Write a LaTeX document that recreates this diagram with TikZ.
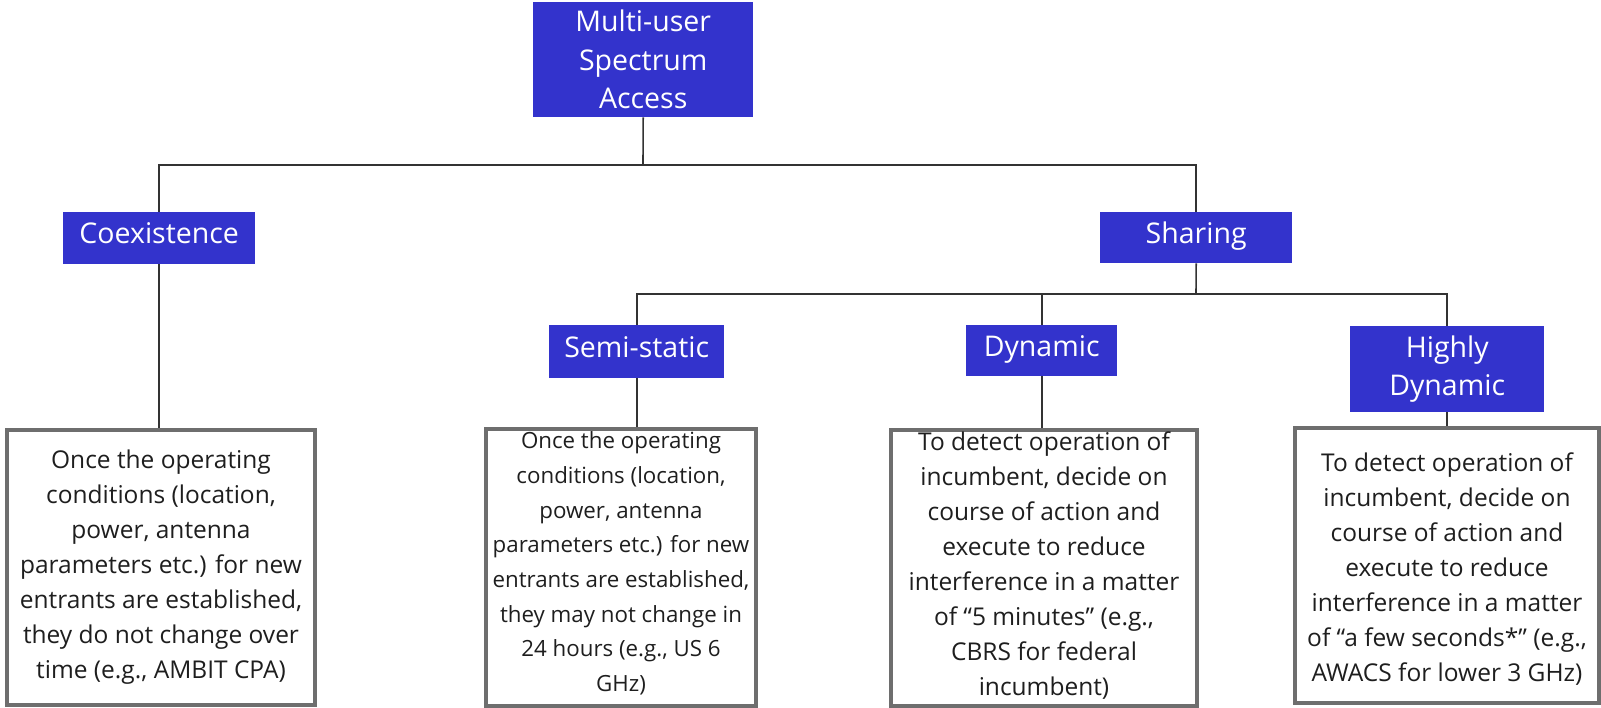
\documentclass[tikz,border=0pt]{standalone}
\usepackage{fontspec}
\setmainfont{Open Sans}
\definecolor{boxblue}{HTML}{3333CC}
\definecolor{framegray}{HTML}{6E6E6E}
\definecolor{txt}{HTML}{1E1E1E}
\definecolor{wire}{HTML}{333333}
\begin{document}
\begin{tikzpicture}[x=1pt,y=-1pt,
  head/.style={fill=boxblue, text=white, inner sep=0pt, anchor=north west, align=center,
    font=\fontsize{28.5}{38.5}\selectfont},
  oneline/.style={text height=21pt, text depth=10pt},
  frame/.style={draw=framegray, line width=4pt, inner sep=0pt, anchor=north west},
  body/.style={text=txt, align=center, inner sep=0pt, font=\fontsize{24.5}{35}\selectfont},
  wirestyle/.style={draw=wire, line width=1.6pt}]
\useasboundingbox (0,0) rectangle (1601,707);
% heading boxes
\node[head, minimum width=220pt, minimum height=115pt] (root) at (533,2) {Multi-user\\Spectrum\\Access};
\node[head, oneline, minimum width=192pt, minimum height=52pt] (coex) at (63,212) {Coexistence};
\node[head, oneline, minimum width=192pt, minimum height=51pt] (share) at (1100,212) {Sharing};
\node[head, oneline, minimum width=175pt, minimum height=53pt] (semi) at (549,325) {Semi-static};
\node[head, oneline, minimum width=151pt, minimum height=51pt] (dyn) at (966,325) {Dynamic};
\node[head, minimum width=194pt, minimum height=86pt] (hdyn) at (1350,326) {Highly\\Dynamic};
% text frames
\node[frame, minimum width=308pt, minimum height=275pt] (cbox) at (5,428) {};
\node[frame, minimum width=270pt, minimum height=277pt] (sbox) at (484,427) {};
\node[frame, minimum width=306pt, minimum height=276pt] (dbox) at (889,428) {};
\node[frame, minimum width=304pt, minimum height=275pt] (hbox) at (1293,426) {};
\node[body] (ctext) at (cbox.center) {Once the operating\\conditions (location,\\power, antenna\\parameters etc.) for new\\entrants are established,\\they do not change over\\time (e.g., AMBIT CPA)};
\node[body, font=\fontsize{22.3}{34.7}\selectfont] (stext) at ([yshift=4pt]sbox.center) {Once the operating\\conditions (location,\\power, antenna\\parameters etc.) for new\\entrants are established,\\they may not change in\\24 hours (e.g., US 6\\GHz)};
\node[body] (dtext) at ([yshift=2pt]dbox.center) {To detect operation of\\incumbent, decide on\\course of action and\\execute to reduce\\interference in a matter\\of “5 minutes” (e.g.,\\CBRS for federal\\incumbent)};
\node[body] (htext) at ([yshift=-4pt]hbox.center) {To detect operation of\\incumbent, decide on\\course of action and\\execute to reduce\\interference in a matter\\of “a few seconds*” (e.g.,\\AWACS for lower 3 GHz)};
% connectors
\coordinate (j1) at (643,165);
\coordinate (j2) at (1196,294);
\draw[wirestyle] (root.south) -- (j1);
\draw[wirestyle] (coex.north) |- (j1) -| (share.north);
\draw[wirestyle] (share.south) -- (j2);
\draw[wirestyle] (semi.north) |- (j2) -| (hdyn.north);
\draw[wirestyle] (dyn.north) -- (dyn.north |- j2);
\draw[wirestyle] (coex.south) -- (coex.south |- cbox.north);
\draw[wirestyle] (semi.south) -- (semi.south |- sbox.north);
\draw[wirestyle] (dyn.south) -- (dyn.south |- dbox.north);
\draw[wirestyle] (hdyn.south) -- (hdyn.south |- hbox.north);
\end{tikzpicture}
\end{document}
